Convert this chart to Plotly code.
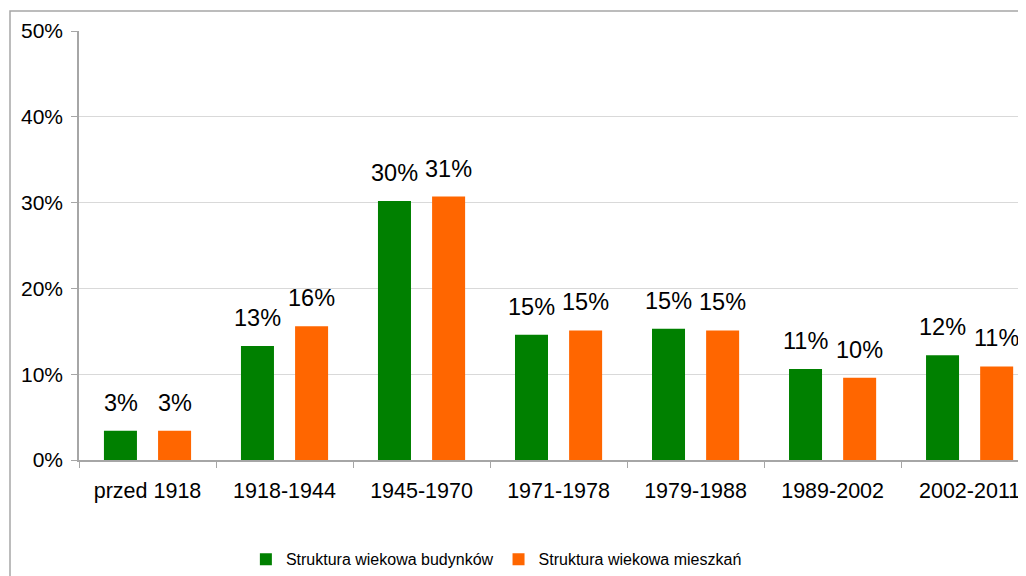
"""Struktura wiekowa budynków i mieszkań — wykres słupkowy grupowany."""

import plotly.graph_objects as go

okresy = ["przed 1918", "1918-1944", "1945-1970", "1971-1978",
          "1979-1988", "1989-2002", "2002-2011"]
budynki = [3.4, 13.3, 30.2, 14.6, 15.3, 10.6, 12.2]
mieszkania = [3.4, 15.6, 30.7, 15.1, 15.1, 9.6, 10.9]

SERIES = [
    ("Struktura wiekowa budynków", budynki, "#008000", -27),
    ("Struktura wiekowa mieszkań", mieszkania, "#FF6600", 27),
]

FONT = "Liberation Sans, Arial, sans-serif"
# strona ma 8px marginesu body, więc wszystko liczone jest względem figury
ML, MT, MB = 71, 23, 124
W, H = 1026, 576

fig = go.Figure()
for name, vals, color, shift in SERIES:
    fig.add_trace(go.Bar(
        x=okresy, y=vals, name=name,
        marker=dict(color=color, line_width=0),
    ))
    for k, v in zip(okresy, vals):
        fig.add_annotation(
            x=k, y=v, text=f"{v:.0f}%", showarrow=False,
            xshift=shift, yshift=13, yanchor="bottom",
            font=dict(size=23.5, color="#000000", family=FONT),
        )

# ramka wykresu (szara linia wokół całego obszaru)
pw = W - ML
ph = H - MT - MB
fig.add_shape(
    type="rect", xref="paper", yref="paper",
    x0=(2 - ML) / pw, x1=(W + 20 - ML) / pw,
    y0=-(MB + 20) / ph, y1=1 + (MT - 3) / ph,
    line=dict(color="#A6A6A6", width=1.5), fillcolor="rgba(0,0,0,0)",
    layer="below",
)

fig.update_layout(
    width=W, height=H,
    margin=dict(l=ML, r=0, t=MT, b=MB, autoexpand=False),
    paper_bgcolor="white", plot_bgcolor="white",
    barmode="group", bargap=0.21, bargroupgap=0.39,
    font=dict(family=FONT, size=21, color="#000000"),
    showlegend=True,
    legend=dict(
        orientation="h", xref="container", yref="container",
        x=0.476, xanchor="center", y=0.043, yanchor="middle",
        font=dict(size=16), tracegroupgap=0,
    ),
    xaxis=dict(
        range=[-0.5, 6.47], automargin=False,
        showline=True, linecolor="#A6A6A6", linewidth=1.5,
        ticks="outside", tickson="boundaries", ticklen=6, tickcolor="#A6A6A6",
        showgrid=False, tickfont=dict(size=21.5), ticklabelstandoff=10,
    ),
    yaxis=dict(
        range=[0, 50], tick0=0, dtick=10, ticksuffix="%", automargin=False,
        showline=True, linecolor="#A6A6A6", linewidth=1.5,
        ticks="outside", ticklen=6, tickcolor="#A6A6A6",
        showgrid=True, gridcolor="#D9D9D9", gridwidth=1.2,
        zeroline=False, tickfont=dict(size=21), ticklabelstandoff=4,
    ),
)

fig.write_html("out.html")
